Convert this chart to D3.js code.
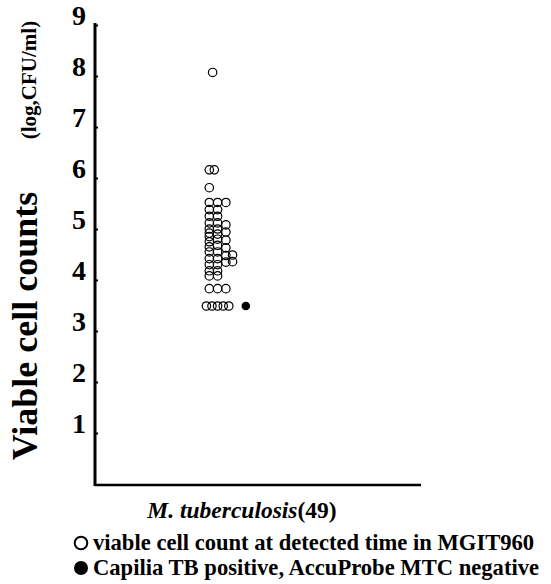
<!DOCTYPE html>
<html><head><meta charset="utf-8">
<script src="https://cdn.jsdelivr.net/npm/d3@7"></script>
<style>
html,body{margin:0;padding:0;background:#fff;}
svg{display:block;font-family:"Liberation Serif","Times New Roman",serif;font-weight:bold;}
</style></head>
<body><div id="chart"></div>
<script>
// ---- data ----
const categoryLabel = "M. tuberculosis";
const categoryCount = "(49)";
const yTicks = [1,2,3,4,5,6,7,8,9];
// open circles: viable cell count (log CFU/ml) and horizontal slot within the strip
const openValues = [
  8.07,
  6.16, 6.16,
  5.81,
  5.52, 5.52, 5.52,
  5.38, 5.25, 5.12, 5.00, 4.92, 4.85, 4.75, 4.65, 4.55, 4.42, 4.30, 4.18, 4.08,
  5.38, 5.25, 5.12, 5.00, 4.90, 4.80, 4.68, 4.55, 4.42, 4.30, 4.18, 4.08,
  5.08, 4.94, 4.78, 4.63, 4.48, 4.35,
  4.49, 4.36,
  3.83, 3.83, 3.83,
  3.49, 3.49, 3.49, 3.49, 3.49
];
const openSlots = [
  0.4,
  0, 0.6,
  0,
  0, 1, 2,
  0,0,0,0,0,0,0,0,0,0,0,0,0,
  1,1,1,1,1,1,1,1,1,1,1,1,
  2,2,2,2,2,2,
  2.8,2.8,
  0,1,2,
  -0.35,0.32,1,1.68,2.35
];
// filled circle: Capilia TB positive, AccuProbe MTC negative
const filledValues = [3.49];
const filledSlots = [4.4];
const legendLabels = [
  "viable cell count at detected time in MGIT960",
  "Capilia TB positive, AccuProbe MTC negative"
];

// ---- drawing ----
const W = 551, H = 584;
const svg = d3.select("#chart").append("svg").attr("width", W).attr("height", H);
const FONT = "Liberation Serif, Times New Roman, serif";

const y = d3.scaleLinear().domain([0, 9]).range([484, 25]);
const x = d3.scaleLinear().domain([0, 1]).range([209.3, 217.6]);
const axisX = 95, axisRight = 421;

// y axis
const yAxis = d3.axisLeft(y).tickValues(yTicks).tickSizeInner(-3).tickSizeOuter(0).tickPadding(9);
const gy = svg.append("g").attr("transform", `translate(${axisX},0)`).call(yAxis)
  .attr("font-family", FONT).attr("font-size", 28);
gy.select(".domain").remove();
gy.selectAll(".tick line").attr("stroke", "#000").attr("stroke-width", 2);
gy.selectAll(".tick text")
  .attr("x", -9).attr("dy", "-1")
  .attr("font-size", 28).attr("font-weight", "bold")
  .attr("font-family", FONT).attr("fill", "#000");
svg.append("line").attr("x1", axisX).attr("x2", axisX).attr("y1", y(9) - 2).attr("y2", y(0) + 2)
  .attr("stroke", "#000").attr("stroke-width", 3);

// x axis baseline
svg.append("line").attr("x1", axisX).attr("x2", axisRight).attr("y1", y(0) + 1).attr("y2", y(0) + 1)
  .attr("stroke", "#000").attr("stroke-width", 2.5);

// y title
svg.append("text")
  .attr("transform", `translate(37,326) rotate(-90)`)
  .attr("text-anchor", "middle").attr("font-size", 36).attr("font-family", FONT).attr("fill", "#000")
  .text("Viable cell counts");
svg.append("text")
  .attr("transform", `translate(36,80) rotate(-90)`)
  .attr("text-anchor", "middle").attr("font-size", 21).attr("font-family", FONT).attr("fill", "#000")
  .text("(log,CFU/ml)");

// x category label
const xl = svg.append("text").attr("x", 242).attr("y", 518).attr("text-anchor", "middle")
  .attr("font-size", 23.5).attr("font-family", FONT).attr("fill", "#000");
xl.append("tspan").attr("font-style", "italic").text(categoryLabel);
xl.append("tspan").attr("font-family", FONT).text(categoryCount);

// points
const openData = openValues.map((v, i) => ({v, s: openSlots[i]}));
const filledData = filledValues.map((v, i) => ({v, s: filledSlots[i]}));
svg.append("g").selectAll("circle").data(openData).join("circle")
  .attr("cx", d => x(d.s)).attr("cy", d => y(d.v)).attr("r", 4.2)
  .attr("fill", "none").attr("stroke", "#000").attr("stroke-width", 1.2);
svg.append("g").selectAll("circle").data(filledData).join("circle")
  .attr("cx", d => x(d.s)).attr("cy", d => y(d.v)).attr("r", 4.3)
  .attr("fill", "#000");

// legend
const lg = svg.append("g");
lg.append("circle").attr("cx", 81).attr("cy", 543).attr("r", 6.3)
  .attr("fill", "#fff").attr("stroke", "#000").attr("stroke-width", 2);
lg.append("circle").attr("cx", 81).attr("cy", 568).attr("r", 7).attr("fill", "#000");
lg.selectAll("text").data(legendLabels).join("text")
  .attr("x", 93).attr("y", (d, i) => 550 + i * 25)
  .attr("font-size", 22.6).attr("font-family", FONT).attr("fill", "#000").text(d => d);
</script></body></html>
